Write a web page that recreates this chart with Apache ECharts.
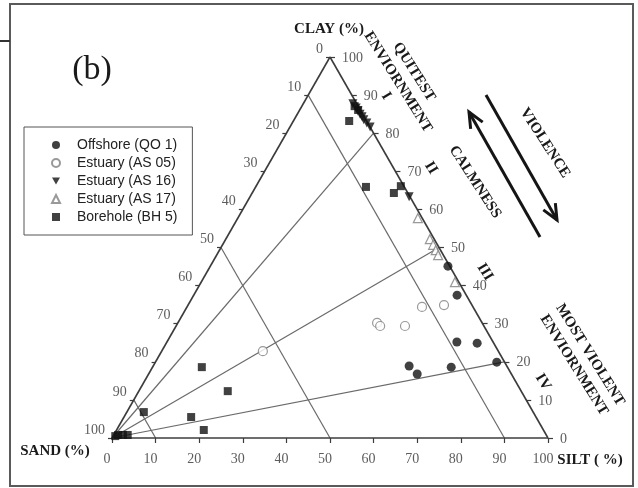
<!DOCTYPE html>
<html>
<head>
<meta charset="utf-8">
<script src="https://cdn.jsdelivr.net/npm/echarts@6/dist/echarts.min.js"></script>
<style>
  html, body { margin: 0; padding: 0; background: #fff; }
  #chart { width: 638px; height: 488px; }
</style>
</head>
<body>
<div id="chart"></div>
<script>
// Grain-size composition of each sample: [sand %, silt %, clay %]
const offshoreQO1 = [
  [0.4, 54.5, 45.1], [2.1, 60.4, 37.5], [8.3, 66.5, 25.2], [3.8, 71.3, 24.9],
  [1.8, 78.3, 19.9], [22.4, 58.7, 18.9], [21.6, 61.6, 16.8], [12.9, 68.5, 18.6]
];
const estuaryAS05 = [
  [54.0, 23.2, 22.8], [24.1, 45.7, 30.2], [23.8, 46.8, 29.4],
  [18.1, 52.5, 29.4], [11.7, 53.9, 34.4], [6.4, 58.7, 34.9]
];
const estuaryAS16 = [
  [0.9, 11.4, 87.7], [0.7, 12.7, 86.6], [0.7, 13.5, 85.8], [0.6, 14.4, 85.0],
  [0.5, 15.2, 84.3], [0.5, 16.0, 83.5], [0.2, 17.1, 82.7], [0.0, 18.4, 81.6],
  [0.2, 36.5, 63.3]
];
const estuaryAS17 = [
  [1.0, 41.3, 57.7], [1.0, 46.8, 52.2], [1.0, 48.3, 50.7],
  [1.1, 49.6, 49.3], [1.2, 50.8, 48.0], [0.9, 58.2, 40.9]
];
const boreholeBH5 = [
  [0.8, 12.1, 87.1], [0.5, 13.4, 86.1], [4.0, 12.8, 83.2], [8.8, 25.3, 65.9],
  [0.7, 33.2, 66.1], [3.2, 32.5, 64.3], [70.1, 11.3, 18.6], [67.3, 20.4, 12.3],
  [89.3, 3.9, 6.8], [79.1, 15.4, 5.5], [77.9, 20.0, 2.1], [98.2, 1.0, 0.8],
  [97.1, 2.1, 0.8], [99.0, 0.5, 0.5], [96.0, 3.2, 0.8]
];

// Scale labels and the Pejrup division lines
const tickValues = [0, 10, 20, 30, 40, 50, 60, 70, 80, 90, 100];
const sandDivisions = [10, 50, 90];     // constant sand % lines
const clayRatioEnds = [80, 50, 20];     // clay % where the silt:clay ratio rays meet the silt-clay side

// Ternary (sand, silt, clay) -> plane: x = silt + clay/2, y = clay
function toXY(p) { return [p[1] + p[2] / 2, p[2]]; }

const GRID = { left: 112, top: 57, width: 436, height: 381 };
const PX = GRID.width / 100, PY = GRID.height / 100;   // pixels per unit

const edgeColor = '#3c3c3c';
const innerColor = '#6a6a6a';
const numFont = { fontFamily: 'Liberation Serif', fontSize: 14, color: '#333' };
const downTriangle = 'path://M0,0 L10,0 L5,9 Z';

// triangle sides
const edges = [
  [[0, 0], [100, 0]],
  [[0, 0], [50, 100]],
  [[100, 0], [50, 100]]
];
// inner division lines
const inner = [];
sandDivisions.forEach(s => {
  inner.push([toXY([s, 0, 100 - s]), toXY([s, 100 - s, 0])]);
});
clayRatioEnds.forEach(c => {
  inner.push([toXY([100, 0, 0]), toXY([0, 100 - c, c])]);
});
// tick marks
const ticks = [];
tickValues.forEach(v => {
  const b = toXY([100 - v, v, 0]);
  ticks.push([b, [b[0], b[1] - 5 / PY]]);
  const l = toXY([v, 0, 100 - v]);
  ticks.push([l, [l[0] - 4 / PX, l[1]]]);
  const r = toXY([0, 100 - v, v]);
  ticks.push([r, [r[0] + 5 / PX, r[1]]]);
});

function linesSeries(segs, color, width) {
  return {
    type: 'lines', coordinateSystem: 'cartesian2d', clip: false, silent: true, z: 1,
    lineStyle: { color: color, width: width, opacity: 1 },
    data: segs.map(s => ({ coords: s }))
  };
}

function labelSeries(points, labelOpt) {
  return {
    type: 'scatter', clip: false, silent: true, symbolSize: 1,
    itemStyle: { color: 'rgba(0,0,0,0)' },
    label: Object.assign({ show: true, position: 'inside', formatter: p => p.value[2] }, numFont, labelOpt),
    data: points
  };
}

function dataSeries(name, pts, symbol, size, style) {
  return {
    name: name, type: 'scatter', clip: false, z: 5,
    symbol: symbol, symbolSize: size,
    itemStyle: style,
    data: pts.map(toXY)
  };
}

const filled = { color: '#111' };
const hollow = { color: '#fff', borderColor: '#808080', borderWidth: 1.2 };

const deg = Math.PI / 180;
function txt(x, y, text, size, opt) {
  opt = opt || {};
  return {
    type: 'text', x: x, y: y, rotation: opt.rot ? -opt.rot * deg : 0, z: 10,
    style: {
      text: text, fill: opt.color || '#1a1a1a',
      font: (opt.bold === false ? '' : 'bold ') + size + 'px "Liberation Serif"',
      align: 'center', verticalAlign: 'middle', lineHeight: opt.lh || size + 3
    }
  };
}

function arrow(tail, head) {
  const dx = head[0] - tail[0], dy = head[1] - tail[1];
  const len = Math.hypot(dx, dy), ux = dx / len, uy = dy / len;
  const L = 17, a = 24 * deg;
  const barb = s => [head[0] - L * (ux * Math.cos(a) - s * uy * Math.sin(a)),
                     head[1] - L * (uy * Math.cos(a) + s * ux * Math.sin(a))];
  return [
    { type: 'line', z: 10, shape: { x1: tail[0], y1: tail[1], x2: head[0], y2: head[1] },
      style: { stroke: '#151515', lineWidth: 3 } },
    { type: 'polyline', z: 10, shape: { points: [barb(1), head, barb(-1)] },
      style: { stroke: '#151515', lineWidth: 3, fill: null } }
  ];
}

const graphics = [
  { type: 'rect', z: 0, shape: { x: 10, y: 4, width: 623, height: 482 },
    style: { stroke: '#5a5a5a', lineWidth: 2, fill: null } },
  { type: 'line', z: 0, shape: { x1: 0, y1: 41, x2: 10, y2: 41 },
    style: { stroke: '#333', lineWidth: 2 } },
  txt(92, 70, '(b)', 34, { bold: false }),
  txt(329, 29, 'CLAY (%)', 15),
  txt(55, 451, 'SAND (%)', 15),
  txt(590, 460, 'SILT ( %)', 15),
  txt(406, 77, 'QUITEST\nENVIORNMENT', 15, { rot: 58, lh: 19 }),
  txt(582, 360, 'MOST VIOLENT\nENVIORNMENT', 15, { rot: 58, lh: 19 }),
  txt(386, 96, 'I', 15, { rot: 58 }),
  txt(431, 168, 'II', 15, { rot: 58 }),
  txt(485, 272, 'III', 15, { rot: 58 }),
  txt(543, 382, 'IV', 15, { rot: 58 }),
  txt(475, 182, 'CALMNESS', 15, { rot: 57 }),
  txt(545, 143, 'VIOLENCE', 15, { rot: 57 })
].concat(arrow([540, 237], [469, 112]), arrow([486, 95], [557, 220]));

const chart = echarts.init(document.getElementById('chart'));
chart.setOption({
  animation: false,
  backgroundColor: '#fff',
  grid: Object.assign({ outerBoundsMode: 'none', containLabel: false }, GRID),
  xAxis: { type: 'value', min: 0, max: 100, show: false },
  yAxis: { type: 'value', min: 0, max: 100, show: false },
  legend: {
    orient: 'vertical', left: 24, top: 127,
    padding: [11, 15, 11, 27],
    itemWidth: 8, itemHeight: 8, itemGap: 4,
    borderColor: '#555', borderWidth: 1, borderRadius: 0,
    textStyle: { fontFamily: 'Liberation Sans', fontSize: 14, color: '#222', padding: [0, 0, 0, 12] },
    data: ['Offshore (QO 1)', 'Estuary (AS 05)', 'Estuary (AS 16)', 'Estuary (AS 17)', 'Borehole (BH 5)']
  },
  graphic: graphics,
  series: [
    linesSeries(inner, innerColor, 1.2),
    linesSeries(edges, edgeColor, 1.6),
    linesSeries(ticks, edgeColor, 1.2),
    labelSeries(tickValues.map(v => toXY([100 - v, v, 0]).concat(v)), { align: 'center', verticalAlign: 'middle', offset: [-5, 21] }),
    labelSeries(tickValues.map(v => toXY([v, 0, 100 - v]).concat(v)), { align: 'right', verticalAlign: 'middle', offset: [-7, -8] }),
    labelSeries(tickValues.map(v => toXY([0, 100 - v, v]).concat(v)), { align: 'left', verticalAlign: 'middle', offset: [12, 1] }),
    dataSeries('Offshore (QO 1)', offshoreQO1, 'circle', 9, filled),
    dataSeries('Estuary (AS 05)', estuaryAS05, 'circle', 9, hollow),
    dataSeries('Estuary (AS 16)', estuaryAS16, downTriangle, 9, filled),
    dataSeries('Estuary (AS 17)', estuaryAS17, 'triangle', 9, hollow),
    dataSeries('Borehole (BH 5)', boreholeBH5, 'rect', 8, filled)
  ]
});
</script>
</body>
</html>
